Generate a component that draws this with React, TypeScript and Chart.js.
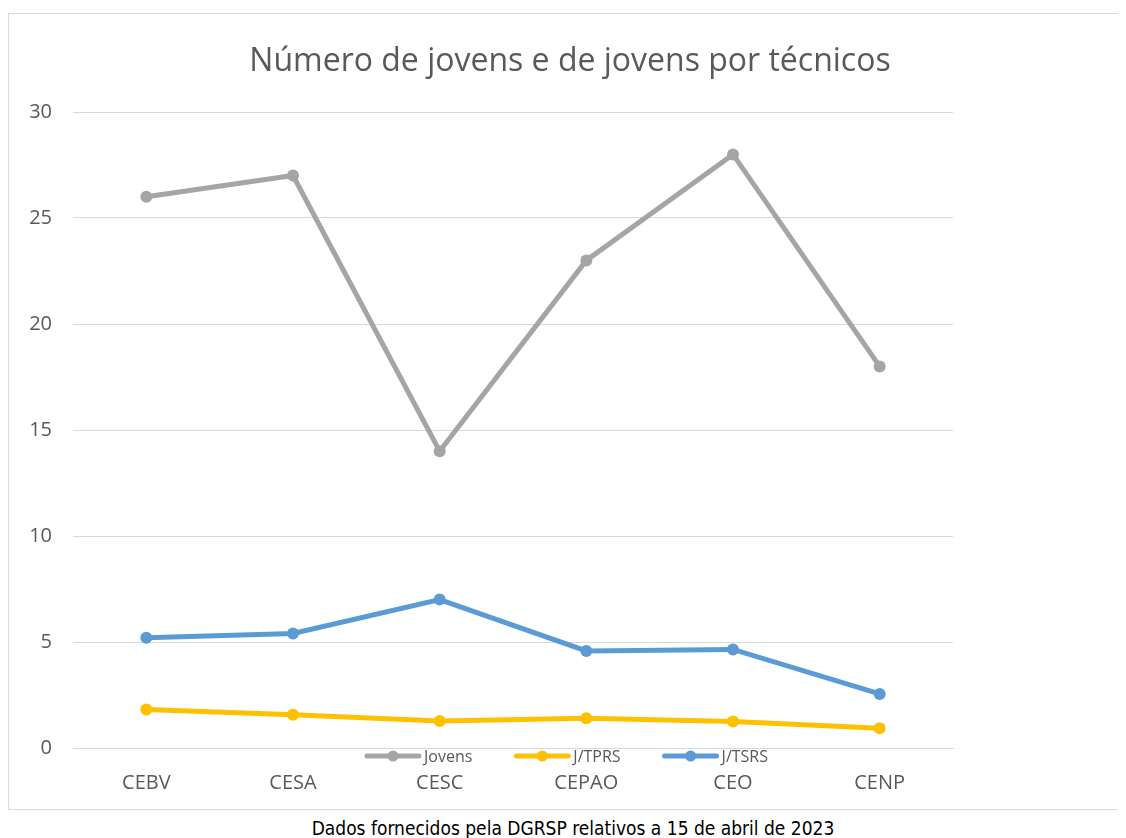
import React, { useEffect, useRef } from "react";
import { Chart, registerables } from "chart.js";

Chart.register(...registerables);

const categories = ["CEBV", "CESA", "CESC", "CEPAO", "CEO", "CENP"];
const jovens = [26, 27, 14, 23, 28, 18];
const jTPRS = [1.82, 1.57, 1.27, 1.4, 1.25, 0.93];
const jTSRS = [5.2, 5.4, 7.0, 4.58, 4.65, 2.55];
const yTicks = { min: 0, max: 30, step: 5 };

const FONT = "'Open Sans', 'Noto Sans', sans-serif";
const TEXT = "#595959";
const GRID = "#d9d9d9";

const legendPlugin = {
  id: "customLegend",
  afterDraw(chart: any) {
    const ctx = chart.ctx as CanvasRenderingContext2D;
    ctx.save();
    ctx.font = `16px ${FONT}`;
    const lineLen = 56;
    const gap = 3;
    const itemGap = 42;
    let x = 356;
    const y = chart.chartArea.bottom + 8;
    chart.data.datasets.forEach((ds: any) => {
      const color = ds.borderColor;
      const w = ctx.measureText(ds.label).width;
      ctx.strokeStyle = color;
      ctx.lineWidth = 5;
      ctx.lineCap = "round";
      ctx.beginPath();
      ctx.moveTo(x + 2, y);
      ctx.lineTo(x + lineLen - 2, y);
      ctx.stroke();
      ctx.fillStyle = color;
      ctx.beginPath();
      ctx.arc(x + lineLen / 2, y, 5.5, 0, Math.PI * 2);
      ctx.fill();
      ctx.fillStyle = TEXT;
      ctx.textBaseline = "middle";
      ctx.textAlign = "left";
      ctx.fillText(ds.label, x + lineLen + gap, y + 1);
      x += lineLen + gap + w + itemGap;
    });
    ctx.restore();
  },
};

export default function App() {
  const ref = useRef<HTMLCanvasElement>(null);
  useEffect(() => {
    if (!ref.current) return;
    const mk = (label: string, data: number[], color: string) => ({
      label,
      data,
      borderColor: color,
      backgroundColor: color,
      pointBackgroundColor: color,
      pointBorderColor: color,
      borderWidth: 5,
      pointRadius: 6,
      pointBorderWidth: 0,
      tension: 0,
      yAxisID: "y",
    });
    const chart = new Chart(ref.current, {
      type: "line",
      data: {
        labels: categories,
        datasets: [
          mk("Jovens", jovens, "#A5A5A5"),
          mk("J/TPRS", jTPRS, "#FFC000"),
          mk("J/TSRS", jTSRS, "#5B9BD5"),
        ],
      },
      options: {
        responsive: false,
        animation: false,
        layout: { padding: { left: 5, right: 0, top: 0, bottom: 0 } },
        plugins: {
          legend: { display: false },
          tooltip: { enabled: false },
          title: {
            display: true,
            text: "Número de jovens e de jovens por técnicos",
            color: TEXT,
            font: { family: FONT, size: 32, weight: "normal" },
            padding: { top: 29, bottom: 30.6 },
          },
        },
        scales: {
          x: {
            offset: true,
            grid: { display: false },
            border: { display: true, color: GRID, width: 1 },
            ticks: {
              color: TEXT,
              font: { family: FONT, size: 20 },
              padding: 15,
              maxRotation: 0,
            },
            afterFit: (s: any) => {
              s.height = 61;
            },
          },
          y: {
            min: yTicks.min,
            max: yTicks.max,
            ticks: {
              stepSize: yTicks.step,
              color: TEXT,
              font: { family: FONT, size: 20 },
              padding: 21,
            },
            grid: { color: GRID, lineWidth: 1, drawTicks: false },
            border: { display: false },
            afterFit: (s: any) => {
              s.width = 59;
            },
          },
          yRight: {
            position: "right",
            display: true,
            ticks: { display: false },
            grid: { display: false },
            border: { display: false },
            afterFit: (s: any) => {
              s.width = 173;
            },
          },
        },
      },
      plugins: [legendPlugin],
    } as any);
    return () => chart.destroy();
  }, []);

  return (
    <div style={{ paddingTop: 5 }}>
      <div
        style={{
          marginRight: -8,
          borderTop: `1px solid ${GRID}`,
          borderLeft: `1px solid ${GRID}`,
          borderBottom: `1px solid ${GRID}`,
          height: 795,
        }}
      >
        <canvas ref={ref} width={1117} height={795} style={{ display: "block" }} />
      </div>
      <div
        style={{
          marginTop: 7,
          marginRight: -8,
          paddingLeft: 12,
          textAlign: "center",
          fontFamily: "'Liberation Sans Narrow', 'DejaVu Sans Condensed', sans-serif",
          fontSize: 19,
          lineHeight: "22px",
          color: "#000",
          whiteSpace: "nowrap",
        }}
      >
        Dados fornecidos pela DGRSP relativos a 15 de abril de 2023
      </div>
    </div>
  );
}
